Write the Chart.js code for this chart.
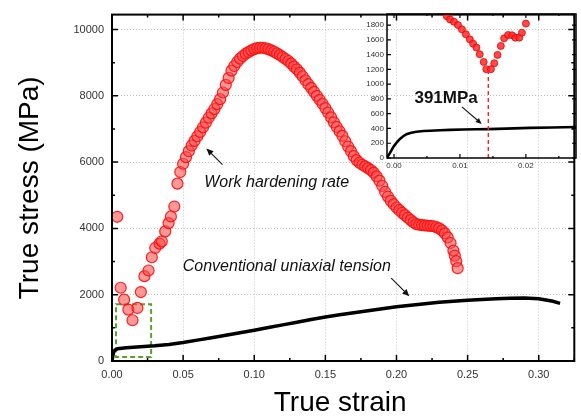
<!DOCTYPE html>
<html>
<head>
<meta charset="utf-8">
<script src="https://cdn.jsdelivr.net/npm/chart.js"></script>
<style>
  html, body { margin: 0; padding: 0; background: #fff; }
  #wrap { position: relative; width: 581px; height: 418px; }
  #mainChart { position: absolute; left: 0; top: 0; }
  #insetChart { position: absolute; left: 360px; top: 0; }
</style>
</head>
<body>
<div id="wrap">
  <canvas id="mainChart" width="581" height="418"></canvas>
  <canvas id="insetChart" width="221" height="175"></canvas>
</div>
<script>
    // ---- data ----
    // work hardening rate (red circles), main plot
    const hardeningStrain = [0.0037, 0.0061, 0.0085, 0.0115, 0.0144, 0.0179, 0.0203, 0.0228, 0.0257, 0.028, 0.0304, 0.0334, 0.035, 0.0374, 0.0398, 0.0414, 0.0438,
        0.046, 0.048, 0.050, 0.052, 0.054, 0.056, 0.058, 0.060, 0.062, 0.064, 0.066, 0.068, 0.070, 0.072, 0.074, 0.076, 0.078, 0.080,
        0.082, 0.084, 0.086, 0.088, 0.090, 0.092, 0.094, 0.096, 0.098, 0.100, 0.102, 0.104, 0.106, 0.108, 0.110, 0.112, 0.114, 0.116,
        0.118, 0.120, 0.122, 0.124, 0.126, 0.128, 0.130, 0.132, 0.134, 0.136, 0.138, 0.140, 0.142, 0.144, 0.146, 0.148, 0.150, 0.152,
        0.154, 0.156, 0.158, 0.160, 0.162, 0.164, 0.166, 0.168, 0.170, 0.172, 0.174, 0.176, 0.178, 0.180, 0.182, 0.184, 0.186, 0.188,
        0.190, 0.192, 0.194, 0.196, 0.198, 0.200, 0.202, 0.204, 0.206, 0.208, 0.210, 0.212, 0.214, 0.216, 0.218, 0.220, 0.222, 0.224,
        0.226, 0.228, 0.230, 0.232, 0.234, 0.236, 0.238, 0.240, 0.241, 0.242, 0.243];
    const hardeningRate = [4350, 2210, 1850, 1550, 1230, 1600, 2080, 2560, 2730, 3130, 3410, 3540, 3610, 3910, 4160, 4360, 4660,
        5350, 5700, 5950, 6150, 6330, 6500, 6640, 6780, 6910, 7050, 7190, 7340, 7470, 7600, 7750, 7900, 8100, 8330,
        8540, 8760, 8900, 9020, 9120, 9200, 9270, 9320, 9370, 9410, 9440, 9450, 9450, 9430, 9410, 9370, 9330, 9280,
        9230, 9170, 9110, 9050, 8970, 8880, 8800, 8700, 8590, 8470, 8350, 8240, 8120, 8000, 7880, 7760, 7630, 7490,
        7350, 7200, 7060, 6930, 6790, 6630, 6470, 6330, 6180, 6060, 5980, 5920, 5870, 5820, 5760, 5680, 5570, 5440,
        5280, 5100, 4960, 4830, 4730, 4630, 4550, 4470, 4400, 4320, 4250, 4180, 4130, 4110, 4100, 4090, 4080, 4075,
        4065, 4040, 4000, 3940, 3850, 3730, 3560, 3330, 3180, 3010, 2800];

    // conventional uniaxial tension (black line), main plot
    const tensionStrain = [0, 0.001, 0.002, 0.004, 0.01, 0.02, 0.03, 0.04, 0.05, 0.06, 0.07, 0.08, 0.09, 0.10, 0.11, 0.12, 0.13, 0.14,
        0.15, 0.16, 0.17, 0.18, 0.19, 0.20, 0.21, 0.22, 0.23, 0.24, 0.25, 0.26, 0.27, 0.28, 0.29, 0.30, 0.31, 0.315];
    const tensionStress = [0, 250, 330, 370, 400, 430, 460, 500, 560, 630, 700, 775, 850, 930, 1010, 1090, 1170, 1250,
        1330, 1395, 1455, 1515, 1575, 1635, 1685, 1730, 1770, 1805, 1835, 1858, 1878, 1893, 1900, 1875, 1800, 1740];

    // inset: zoom on the first 2.7 % strain
    const insetRateStrain = [0.0080, 0.0085, 0.0091, 0.0097, 0.0103, 0.0109, 0.0115, 0.0120, 0.0125, 0.0130, 0.0136, 0.0140,
        0.0147, 0.0152, 0.0157, 0.0162, 0.0167, 0.0173, 0.0179, 0.0184, 0.0190, 0.0194, 0.0200];
    const insetRate = [1920, 1877, 1845, 1801, 1742, 1675, 1607, 1548, 1495, 1405, 1301, 1203,
        1203, 1283, 1396, 1517, 1621, 1666, 1662, 1630, 1630, 1697, 1820];
    const insetStressStrain = [-0.0011, -0.0006, -0.0001, 0.0004, 0.0009, 0.0014, 0.0019, 0.0026, 0.0034, 0.0045, 0.0055,
        0.007, 0.0085, 0.0105, 0.0125, 0.0143, 0.017, 0.0206, 0.024, 0.0276];
    const insetStress = [0, 70, 150, 210, 258, 295, 322, 342, 355, 365, 370, 376, 381, 386, 389, 391, 398, 408, 414, 420];
    const yieldStrain = 0.0143;   // red dashed marker
    const yieldLabel = '391MPa';

    // tick labels
    const mainXTicks = [0, 0.05, 0.10, 0.15, 0.20, 0.25, 0.30];
    const mainYTicks = [0, 2000, 4000, 6000, 8000, 10000];
    const insetXTicks = [0, 0.01, 0.02];
    const insetYTicks = [0, 200, 400, 600, 800, 1000, 1200, 1400, 1600, 1800];

    const toPoints = (xs, ys) => xs.map((x, i) => ({ x: x, y: ys[i] }));
    const FONT = "'Liberation Sans', Arial, sans-serif";

    // arrow helper (canvas px)
    function arrow(ctx, x1, y1, x2, y2, head) {
        const a = Math.atan2(y2 - y1, x2 - x1);
        ctx.beginPath();
        ctx.moveTo(x1, y1);
        ctx.lineTo(x2 - Math.cos(a) * head * 0.6, y2 - Math.sin(a) * head * 0.6);
        ctx.stroke();
        ctx.beginPath();
        ctx.moveTo(x2, y2);
        ctx.lineTo(x2 - head * Math.cos(a) + head * 0.45 * Math.sin(a), y2 - head * Math.sin(a) - head * 0.45 * Math.cos(a));
        ctx.lineTo(x2 - head * Math.cos(a) - head * 0.45 * Math.sin(a), y2 - head * Math.sin(a) + head * 0.45 * Math.cos(a));
        ctx.closePath();
        ctx.fill();
    }

    // frame with inward ticks on all four sides
    const framePlugin = {
        id: 'frame',
        afterDraw(chart, args, opts) {
            const { ctx, chartArea: a, scales } = chart;
            const xs = scales.x, ys = scales.y;
            ctx.save();
            ctx.strokeStyle = '#000';
            ctx.lineWidth = opts.width;
            ctx.strokeRect(a.left, a.top, a.right - a.left, a.bottom - a.top);
            const tick = (px, len, horizontal) => {
                ctx.beginPath();
                if (horizontal) {
                    ctx.moveTo(px, a.bottom); ctx.lineTo(px, a.bottom - len);
                    ctx.moveTo(px, a.top); ctx.lineTo(px, a.top + len);
                } else {
                    ctx.moveTo(a.left, px); ctx.lineTo(a.left + len, px);
                    ctx.moveTo(a.right, px); ctx.lineTo(a.right - len, px);
                }
                ctx.stroke();
            };
            ctx.lineWidth = opts.tickWidth;
            xs.ticks.forEach(t => tick(xs.getPixelForValue(t.value), opts.major, true));
            for (let v = xs.ticks[0].value - opts.xMinor; v <= xs.max + 1e-9; v += 2 * opts.xMinor) {
                if (v >= xs.min) tick(xs.getPixelForValue(v), opts.minor, true);
            }
            ys.ticks.forEach(t => tick(ys.getPixelForValue(t.value), opts.major, false));
            if (opts.yMinor) {
                for (let v = ys.ticks[0].value + opts.yMinor; v <= ys.max; v += 2 * opts.yMinor) {
                    tick(ys.getPixelForValue(v), opts.minor, false);
                }
            }
            ctx.restore();
        }
    };

    // annotations for the main plot
    const mainNotes = {
        id: 'mainNotes',
        beforeDatasetsDraw(chart) {
            const { ctx, scales: { x, y } } = chart;
            // green dashed box around the early strain region
            ctx.save();
            ctx.strokeStyle = '#5aa02c';
            ctx.lineWidth = 2;
            ctx.setLineDash([5, 3]);
            const bx1 = x.getPixelForValue(0.0028), bx2 = x.getPixelForValue(0.0275);
            const by1 = y.getPixelForValue(1715), by2 = y.getPixelForValue(120);
            ctx.strokeRect(bx1, by1, bx2 - bx1, by2 - by1);
            ctx.restore();
        },
        afterDraw(chart) {
            const { ctx, chartArea: a, scales: { x, y } } = chart;
            ctx.save();
            ctx.fillStyle = '#111';
            ctx.strokeStyle = '#111';
            ctx.lineWidth = 1.1;
            ctx.font = 'italic 16px ' + FONT;
            ctx.textAlign = 'center';
            ctx.textBaseline = 'middle';
            ctx.fillText('Work hardening rate', x.getPixelForValue(0.1158), y.getPixelForValue(5384));
            ctx.fillText('Conventional uniaxial tension', x.getPixelForValue(0.1229), y.getPixelForValue(2858));
            arrow(ctx, x.getPixelForValue(0.0777), y.getPixelForValue(5926), x.getPixelForValue(0.0664), y.getPixelForValue(6407), 7);
            arrow(ctx, x.getPixelForValue(0.1963), y.getPixelForValue(2497), x.getPixelForValue(0.209), y.getPixelForValue(1955), 7);

            // axis titles
            ctx.fillStyle = '#000';
            ctx.font = '28px ' + FONT;
            ctx.fillText('True strain', (a.left + a.right) / 2 - 3, 403);
            ctx.translate(30, (a.top + a.bottom) / 2);
            ctx.rotate(-Math.PI / 2);
            ctx.fillText('True stress (MPa)', 0, 0);
            ctx.restore();
        }
    };

    // annotations for the inset
    const insetNotes = {
        id: 'insetNotes',
        afterDraw(chart) {
            const { ctx, scales: { x, y } } = chart;
            ctx.save();
            ctx.fillStyle = '#111';
            ctx.strokeStyle = '#111';
            ctx.lineWidth = 1.1;
            ctx.font = 'bold 17px ' + FONT;
            ctx.textAlign = 'center';
            ctx.textBaseline = 'middle';
            ctx.fillText(yieldLabel, x.getPixelForValue(0.0079), y.getPixelForValue(814));
            arrow(ctx, x.getPixelForValue(0.0103), y.getPixelForValue(693), x.getPixelForValue(0.0133), y.getPixelForValue(462), 6);
            ctx.restore();
        }
    };

    const mainConfig = {
        type: 'scatter',
        data: {
            datasets: [{
                label: 'Work hardening rate',
                data: toPoints(hardeningStrain, hardeningRate),
                pointRadius: 5.5,
                pointBackgroundColor: 'rgba(255, 70, 70, 0.55)',
                pointBorderColor: 'rgba(255, 10, 10, 0.9)',
                pointBorderWidth: 1.2
            }, {
                label: 'Conventional uniaxial tension',
                data: toPoints(tensionStrain, tensionStress),
                showLine: true,
                borderColor: '#000',
                borderWidth: 3.5,
                pointRadius: 0
            }]
        },
        options: {
            responsive: false,
            animation: false,
            devicePixelRatio: 1,
            layout: { padding: { top: 14, right: 5, left: 0, bottom: 0 } },
            plugins: {
                legend: { display: false },
                tooltip: { enabled: false },
                frame: { width: 2, tickWidth: 1.5, major: 6, minor: 3, xMinor: 0.025, yMinor: 1000 }
            },
            scales: {
                x: {
                    type: 'linear',
                    min: 0,
                    max: 0.325,
                    afterFit: s => { s.height = 57; },
                    afterBuildTicks: s => { s.ticks = mainXTicks.map(v => ({ value: v })); },
                    grid: { color: '#c4c4c4', lineWidth: 1, drawTicks: false },
                    border: { display: false, dash: [1, 2] },
                    ticks: { padding: 7, color: '#333', font: { family: FONT, size: 11 }, callback: v => v.toFixed(2) }
                },
                y: {
                    type: 'linear',
                    min: 0,
                    max: 10450,
                    afterFit: s => { s.width = 112; },
                    afterBuildTicks: s => { s.ticks = mainYTicks.map(v => ({ value: v })); },
                    grid: { color: '#c4c4c4', lineWidth: 1, drawTicks: false },
                    border: { display: false, dash: [1, 2] },
                    ticks: { padding: 8, color: '#333', font: { family: FONT, size: 11 }, callback: v => String(v) }
                }
            }
        },
        plugins: [framePlugin, mainNotes]
    };

    const insetConfig = {
        type: 'scatter',
        data: {
            datasets: [{
                label: 'yield marker',
                data: [{ x: yieldStrain, y: 0 }, { x: yieldStrain, y: Math.min(...insetRate) }],
                showLine: true,
                borderColor: '#ff2020',
                borderWidth: 1.4,
                borderDash: [4, 3],
                pointRadius: 0
            }, {
                label: 'Work hardening rate',
                data: toPoints(insetRateStrain, insetRate),
                pointRadius: 3.5,
                pointBackgroundColor: 'rgba(255, 40, 40, 0.85)',
                pointBorderColor: '#e80000',
                pointBorderWidth: 0.8,
                clip: 0
            }, {
                label: 'True stress',
                data: toPoints(insetStressStrain, insetStress),
                showLine: true,
                borderColor: '#000',
                borderWidth: 2.6,
                pointRadius: 0
            }]
        },
        options: {
            responsive: false,
            animation: false,
            devicePixelRatio: 1,
            layout: { padding: { top: 14, right: 5, left: 0, bottom: 0 } },
            plugins: {
                legend: { display: false },
                tooltip: { enabled: false },
                frame: { width: 1.5, tickWidth: 1.2, major: 4, minor: 2, xMinor: 0.005, yMinor: 0 }
            },
            scales: {
                x: {
                    type: 'linear',
                    min: -0.00106,
                    max: 0.0276,
                    afterFit: s => { s.height = 17; },
                    afterBuildTicks: s => { s.ticks = insetXTicks.map(v => ({ value: v })); },
                    grid: { display: false, drawTicks: false },
                    border: { display: false },
                    ticks: { padding: 3, color: '#333', font: { family: FONT, size: 8 }, callback: v => v.toFixed(2) }
                },
                y: {
                    type: 'linear',
                    min: 0,
                    max: 1950,
                    afterFit: s => { s.width = 27; },
                    afterBuildTicks: s => { s.ticks = insetYTicks.map(v => ({ value: v })); },
                    grid: { display: false, drawTicks: false },
                    border: { display: false },
                    ticks: { padding: 3, color: '#333', font: { family: FONT, size: 8 }, callback: v => String(v) }
                }
            }
        },
        plugins: [framePlugin, insetNotes]
    };

    const mainChart = new Chart(document.getElementById('mainChart'), mainConfig);
    const insetChart = new Chart(document.getElementById('insetChart'), insetConfig);
</script>
</body>
</html>
